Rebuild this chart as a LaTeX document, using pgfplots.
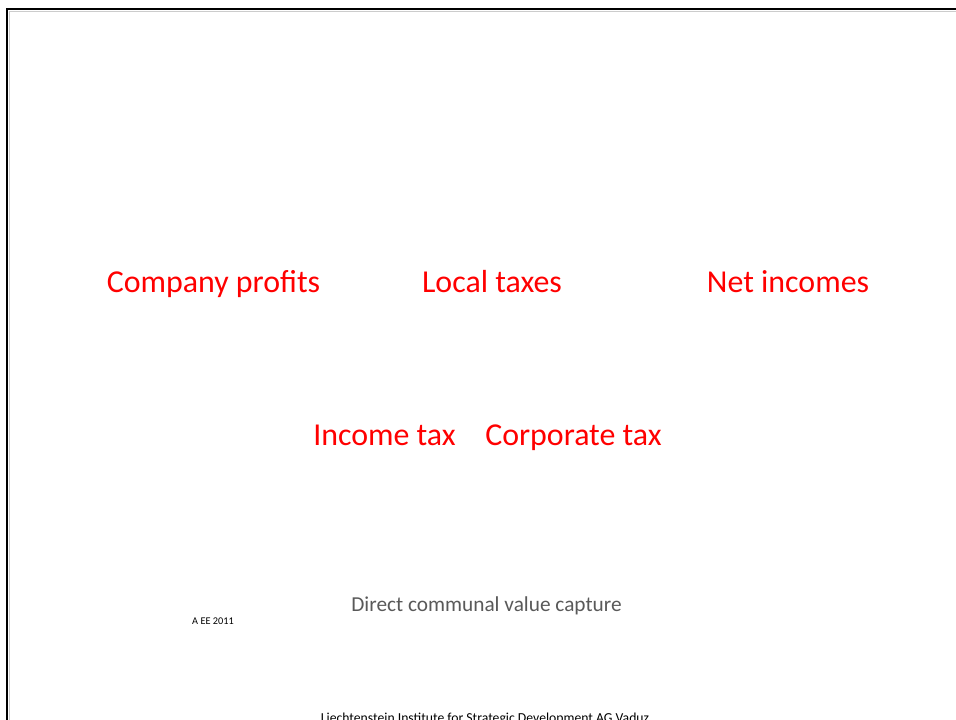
\documentclass[border=0pt]{standalone}
\usepackage{pgfplots}
\pgfplotsset{compat=1.18}
\usepackage{fontspec}
\setmainfont{Carlito}
\definecolor{txtred}{HTML}{FF0000}
\definecolor{txtgray}{HTML}{595959}
\begin{document}
\begin{tikzpicture}[x=1pt,y=1pt]
\path[use as bounding box, clip] (0,0) rectangle (956,720);
\begin{axis}[
  at={(0,0)}, anchor=south west,
  width=956pt, height=720pt, scale only axis,
  xmin=0, xmax=956, ymin=0, ymax=720, y dir=reverse,
  hide axis, clip=false,
]
\addplot[draw=none, forget plot] coordinates {(0,0) (956,720)};
% frame
\draw[gray!40, line width=1pt] (axis cs:9.5,720) -- (axis cs:9.5,11) -- (axis cs:956,11);
\draw[black, line width=2.6pt] (axis cs:7,720) -- (axis cs:7,9) -- (axis cs:956,9);
% labels
\node[anchor=base, inner sep=0pt, text=txtred, font=\fontsize{31.9}{38}\selectfont] at (axis cs:213.5,292.3) {Company profits};
\node[anchor=base, inner sep=0pt, text=txtred, font=\fontsize{31.9}{38}\selectfont] at (axis cs:492,292.3) {Local taxes};
\node[anchor=base, inner sep=0pt, text=txtred, font=\fontsize{31.9}{38}\selectfont] at (axis cs:788,292.3) {Net incomes};
\node[anchor=base, inner sep=0pt, text=txtred, font=\fontsize{31.9}{38}\selectfont] at (axis cs:384.5,445.3) {Income tax};
\node[anchor=base, inner sep=0pt, text=txtred, font=\fontsize{31.9}{38}\selectfont] at (axis cs:573.5,445.3) {Corporate tax};
\node[anchor=base, inner sep=0pt, text=txtgray, font=\fontsize{21.3}{26}\selectfont] at (axis cs:486.5,611.5) {Direct communal value capture};
\node[anchor=base, inner sep=0pt, text=black, font=\fontsize{10.3}{12}\selectfont] at (axis cs:213,624) {A EE 2011};
\node[anchor=base, inner sep=0pt, text=black, font=\fontsize{13.7}{16}\selectfont] at (axis cs:485,722.5) {Liechtenstein Institute for Strategic Development AG Vaduz};
\end{axis}
\end{tikzpicture}
\end{document}
